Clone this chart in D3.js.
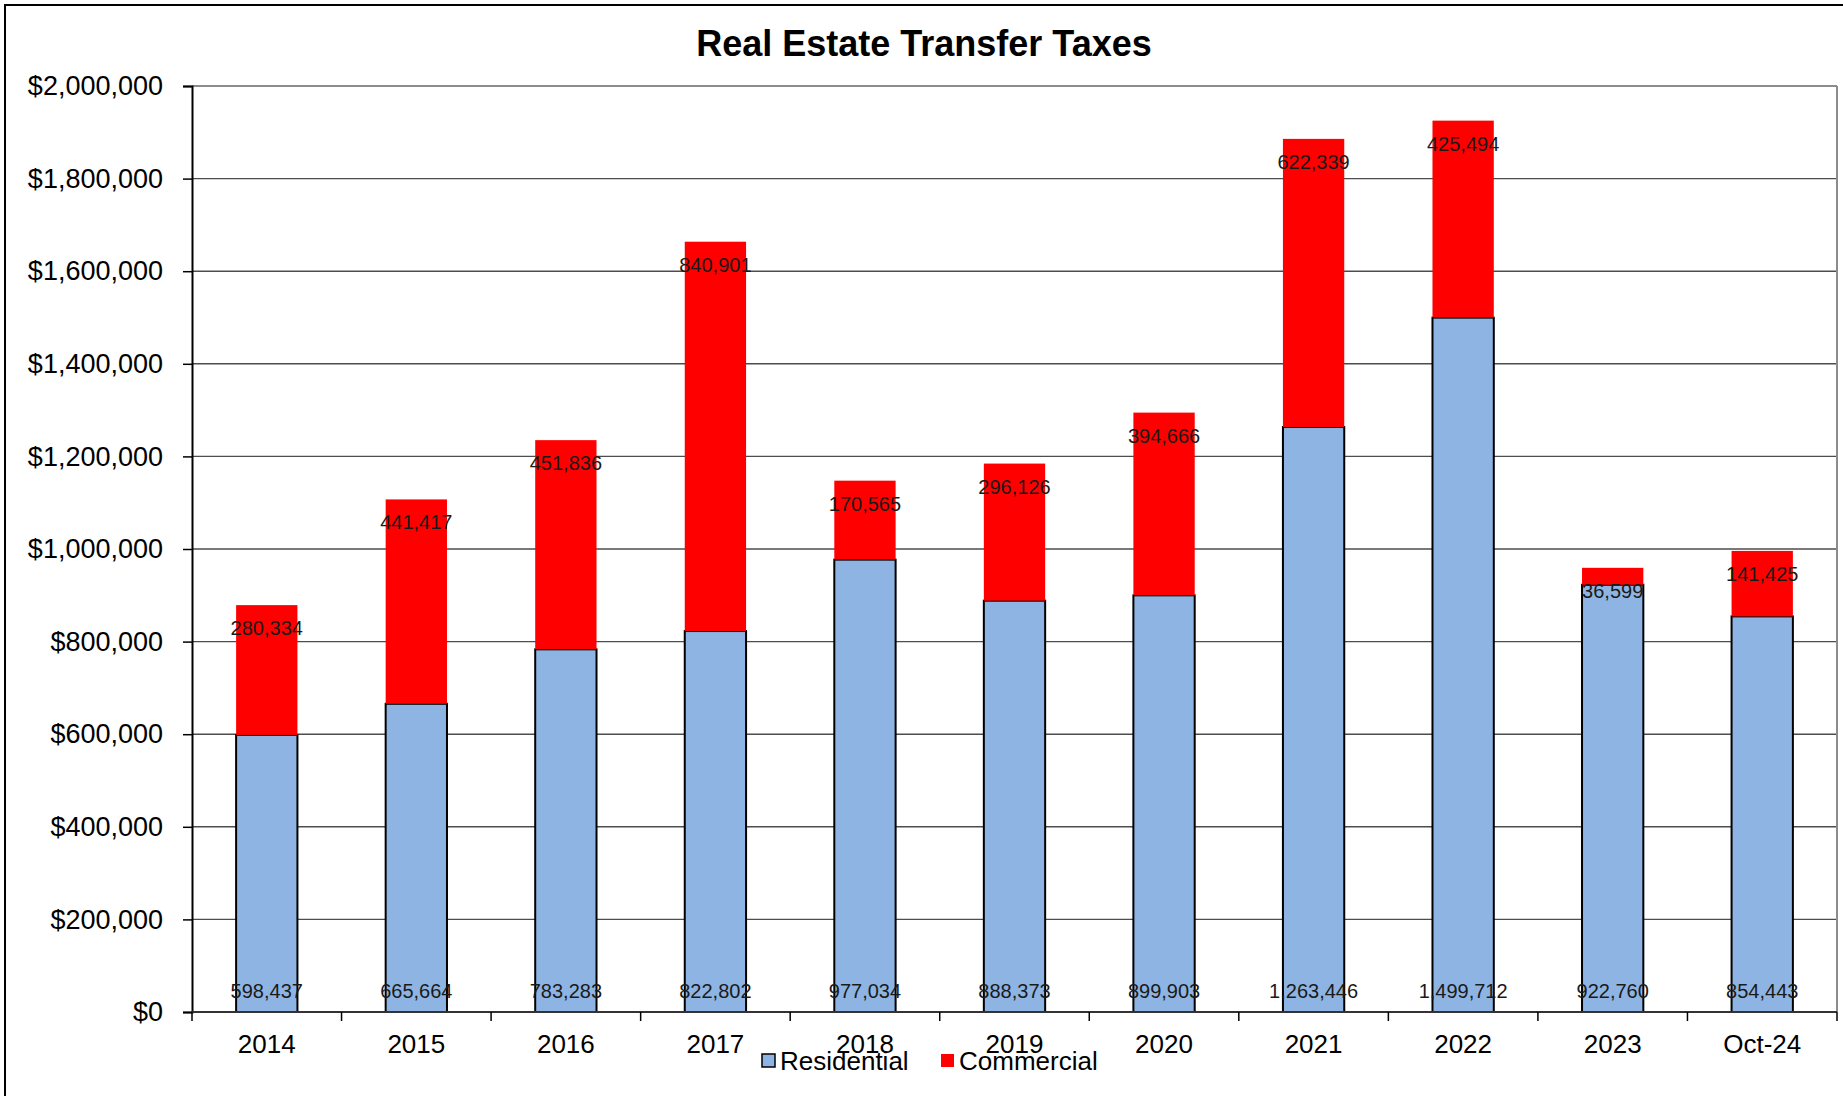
<!DOCTYPE html>
<html>
<head>
<meta charset="utf-8">
<script src="https://cdn.jsdelivr.net/npm/d3@7"></script>
<style>
  html, body { margin: 0; padding: 0; background: #fff; }
  svg { display: block; font-family: "Liberation Sans", Arial, sans-serif; }
</style>
</head>
<body>
<svg id="chart" width="1843" height="1096"></svg>
<script>
// Real estate transfer tax receipts by year, split by property type
const categories = ["2014", "2015", "2016", "2017", "2018", "2019", "2020", "2021", "2022", "2023", "Oct-24"];
const residential = [598437, 665664, 783283, 822802, 977034, 888373, 899903, 1263446, 1499712, 922760, 854443];
const commercial = [280334, 441417, 451836, 840901, 170565, 296126, 394666, 622339, 425494, 36599, 141425];
const yTicks = [0, 200000, 400000, 600000, 800000, 1000000, 1200000, 1400000, 1600000, 1800000, 2000000];
const seriesNames = ["Residential", "Commercial"];

const W = 1843, H = 1096;
const plot = { left: 192, right: 1837, top: 86, bottom: 1012 };
const colors = { Residential: "#8EB4E3", Commercial: "#FF0000" };

const svg = d3.select("#chart");

// outer chart frame (right and bottom edges fall outside the canvas)
svg.append("rect")
  .attr("x", 5).attr("y", 5)
  .attr("width", W + 20).attr("height", H + 20)
  .attr("fill", "#fff").attr("stroke", "#000").attr("stroke-width", 2);

const x = d3.scaleBand()
  .domain(categories)
  .range([plot.left, plot.right])
  .paddingInner(0.59)
  .paddingOuter(0.295);

const y = d3.scaleLinear()
  .domain([0, 2000000])
  .range([plot.bottom, plot.top]);

// horizontal gridlines
svg.append("g")
  .selectAll("line")
  .data(yTicks.filter(v => v > 0))
  .join("line")
  .attr("x1", plot.left).attr("x2", plot.right)
  .attr("y1", d => y(d)).attr("y2", d => y(d))
  .attr("stroke", d => d === 2000000 ? "#8c8c8c" : "#4d4d4d")
  .attr("stroke-width", d => d === 2000000 ? 2 : 1.4);

// right edge of plot area
svg.append("line")
  .attr("x1", plot.right).attr("x2", plot.right)
  .attr("y1", plot.top).attr("y2", plot.bottom)
  .attr("stroke", "#8c8c8c").attr("stroke-width", 2);

// stacked bars
const stackData = categories.map((c, i) => ({ cat: c, Residential: residential[i], Commercial: commercial[i] }));
const stacked = d3.stack().keys(seriesNames)(stackData);

const barGroups = svg.append("g").selectAll("g")
  .data(stacked)
  .join("g")
  .attr("fill", d => colors[d.key]);

barGroups.selectAll("rect")
  .data(d => d.map(p => ({ key: d.key, p })))
  .join("rect")
  .attr("x", d => x(d.p.data.cat))
  .attr("width", x.bandwidth())
  .attr("y", d => y(d.p[1]))
  .attr("height", d => y(d.p[0]) - y(d.p[1]))
  .attr("stroke", d => d.key === "Residential" ? "#000" : "none")
  .attr("stroke-width", 2);

// y axis
const yAxis = d3.axisLeft(y)
  .tickValues(yTicks)
  .tickFormat(d3.format("$,"))
  .tickSize(9)
  .tickPadding(20);

const yg = svg.append("g")
  .attr("transform", `translate(${plot.left},0)`)
  .call(yAxis);
yg.select(".domain").attr("stroke", "#000").attr("stroke-width", 2);
yg.selectAll(".tick line").attr("stroke", "#000").attr("stroke-width", 1.5);
yg.selectAll(".tick text")
  .attr("font-size", 27)
  .attr("fill", "#000")
  .style("font-family", "'Liberation Sans', Arial, sans-serif");

// x axis: category ticks sit on the band boundaries
const step = x.step();
const boundaries = d3.range(categories.length + 1).map(i => plot.left + i * step);
const xg = svg.append("g");
xg.append("line")
  .attr("x1", plot.left).attr("x2", plot.right)
  .attr("y1", plot.bottom).attr("y2", plot.bottom)
  .attr("stroke", "#333").attr("stroke-width", 2);
xg.selectAll("line.tick")
  .data(boundaries)
  .join("line")
  .attr("class", "tick")
  .attr("x1", d => d).attr("x2", d => d)
  .attr("y1", plot.bottom).attr("y2", plot.bottom + 9)
  .attr("stroke", "#000").attr("stroke-width", 1.5);
xg.selectAll("text")
  .data(categories)
  .join("text")
  .attr("x", d => x(d) + x.bandwidth() / 2)
  .attr("y", plot.bottom + 41)
  .attr("text-anchor", "middle")
  .attr("font-size", 26)
  .attr("fill", "#000")
  .text(d => d);

// value labels
const fmt = d3.format(",");
svg.append("g").selectAll("text")
  .data(stackData)
  .join("text")
  .attr("x", d => x(d.cat) + x.bandwidth() / 2)
  .attr("y", plot.bottom - 14)
  .attr("text-anchor", "middle")
  .attr("font-size", 20)
  .attr("fill", "#1a1a1a")
  .text(d => fmt(d.Residential));

svg.append("g").selectAll("text")
  .data(stackData)
  .join("text")
  .attr("x", d => x(d.cat) + x.bandwidth() / 2)
  .attr("y", d => y(d.Residential + d.Commercial) + 30)
  .attr("text-anchor", "middle")
  .attr("font-size", 20)
  .attr("fill", "#1a1a1a")
  .text(d => fmt(d.Commercial));

// title
svg.append("text")
  .attr("x", 924).attr("y", 56)
  .attr("text-anchor", "middle")
  .attr("font-size", 36)
  .attr("font-weight", "bold")
  .attr("fill", "#000")
  .text("Real Estate Transfer Taxes");

// legend
const legend = svg.append("g").attr("transform", "translate(762,1061)");
const items = [
  { name: "Residential", x: 0, stroke: "#000" },
  { name: "Commercial", x: 179, stroke: "none" }
];
const li = legend.selectAll("g").data(items).join("g")
  .attr("transform", d => `translate(${d.x},0)`);
li.append("rect")
  .attr("x", 0).attr("y", -7)
  .attr("width", 13).attr("height", 13)
  .attr("fill", d => colors[d.name])
  .attr("stroke", d => d.stroke)
  .attr("stroke-width", 1.5);
li.append("text")
  .attr("x", 18).attr("y", 9)
  .attr("font-size", 26)
  .attr("fill", "#000")
  .text(d => d.name);
</script>
</body>
</html>
